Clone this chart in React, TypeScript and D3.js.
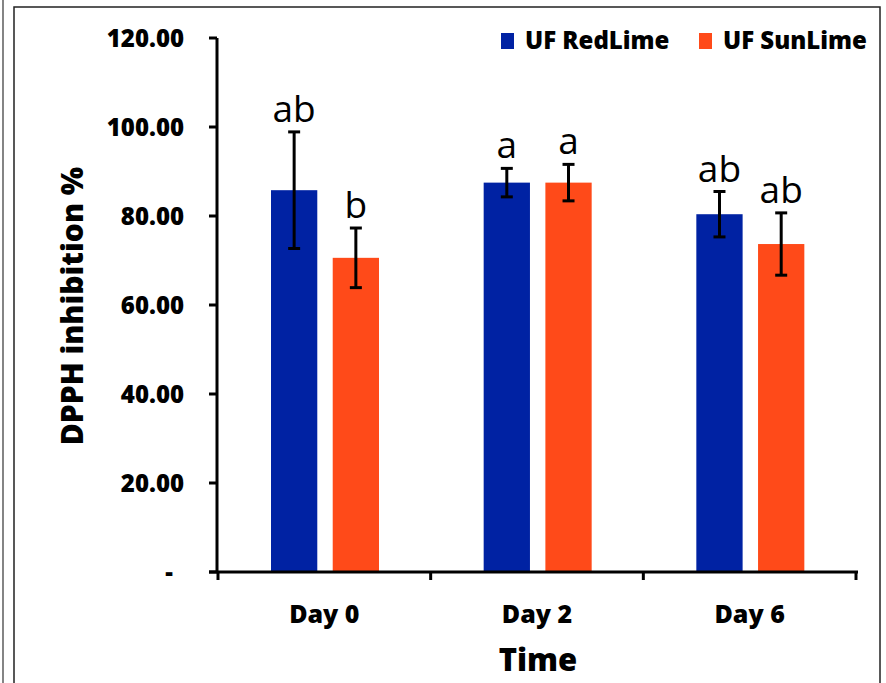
import * as d3 from "d3";

const days = ["Day 0", "Day 2", "Day 6"];
const series = ["UF RedLime", "UF SunLime"];
const colors = ["#0022A3", "#FF4A19"];
const redLime = [85.8, 87.5, 80.4];
const redLimeErr = [13.1, 3.2, 5.1];
const sunLime = [70.6, 87.5, 73.7];
const sunLimeErr = [6.7, 4.1, 7.0];
const redLimeLetters = ["ab", "a", "ab"];
const sunLimeLetters = ["b", "a", "ab"];
const yTicks = [0, 20, 40, 60, 80, 100, 120];

const W = 886;
const H = 683;
const font = "'Open Sans', Lato, sans-serif";
const heavy = 800;

export default function App() {
  const x = d3.scaleBand().domain(days).range([218, 856]);
  const y = d3.scaleLinear().domain([0, 120]).range([572, 38]);
  const inner = d3.scaleBand().domain(series).range([53, 161]).paddingInner(0.25);

  const values = [redLime, sunLime];
  const errs = [redLimeErr, sunLimeErr];
  const letters = [redLimeLetters, sunLimeLetters];

  const fmt = (v) => (v === 0 ? "-" : d3.format(".2f")(v));

  return (
    <svg
      width={W}
      height={H}
      style={{ position: "absolute", left: 0, top: 0, background: "#fff" }}
    >
      <line x1={3} x2={3} y1={0} y2={H} stroke="#333" strokeWidth={1.2} />
      <rect x={14} y={7} width={866} height={H} fill="none" stroke="#222" strokeWidth={1.5} />

      {/* bars */}
      {series.map((s, si) =>
        days.map((d, i) => {
          const bx = x(d) + inner(s);
          const v = values[si][i];
          const e = errs[si][i];
          const cx = bx + inner.bandwidth() / 2;
          return (
            <g key={s + d}>
              <rect x={bx} y={y(v)} width={inner.bandwidth()} height={y(0) - y(v)} fill={colors[si]} />
              <line x1={cx} x2={cx} y1={y(v + e)} y2={y(v - e)} stroke="#000" strokeWidth={3} />
              <line x1={cx - 6} x2={cx + 6} y1={y(v + e)} y2={y(v + e)} stroke="#000" strokeWidth={3} />
              <line x1={cx - 6} x2={cx + 6} y1={y(v - e)} y2={y(v - e)} stroke="#000" strokeWidth={3} />
              <text
                x={cx}
                y={y(v + e) - 10}
                textAnchor="middle"
                fontFamily={font}
                fontSize={37}
                fill="#000"
              >
                {letters[si][i]}
              </text>
            </g>
          );
        })
      )}

      {/* y axis */}
      <line x1={217} x2={217} y1={y(120)} y2={y(0)} stroke="#000" strokeWidth={3} />
      {yTicks.map((t) => (
        <g key={t}>
          <line x1={209} x2={217} y1={y(t)} y2={y(t)} stroke="#000" strokeWidth={3} />
          <text
            x={t === 0 ? 173 : 184}
            y={y(t)}
            dy="0.36em"
            textAnchor="end"
            fontFamily={font}
            fontWeight={heavy}
            fontSize={24}
          >
            {fmt(t)}
          </text>
        </g>
      ))}

      {/* x axis */}
      <line x1={209} x2={858} y1={572} y2={572} stroke="#000" strokeWidth={3} />
      {[...days.map((d) => x(d)), 856].map((t, i) => (
        <line key={i} x1={t} x2={t} y1={572} y2={580} stroke="#000" strokeWidth={3} />
      ))}
      {days.map((d) => (
        <text
          key={d}
          x={x(d) + x.bandwidth() / 2}
          y={623}
          textAnchor="middle"
          fontFamily={font}
          fontWeight={heavy}
          fontSize={25}
        >
          {d}
        </text>
      ))}

      <text x={538} y={671} textAnchor="middle" fontFamily={font} fontWeight={heavy} fontSize={31}>
        Time
      </text>
      <text
        transform="translate(83,306) rotate(-90)"
        textAnchor="middle"
        fontFamily={font}
        fontWeight={heavy}
        fontSize={30}
      >
        DPPH inhibition %
      </text>

      {/* legend */}
      {series.map((s, i) => (
        <g key={s} transform={`translate(${i === 0 ? 501 : 699},33)`}>
          <rect x={0} y={0} width={13} height={16} fill={colors[i]} />
          <text x={24} y={16} fontFamily={font} fontWeight={heavy} fontSize={24}>
            {s}
          </text>
        </g>
      ))}
    </svg>
  );
}
